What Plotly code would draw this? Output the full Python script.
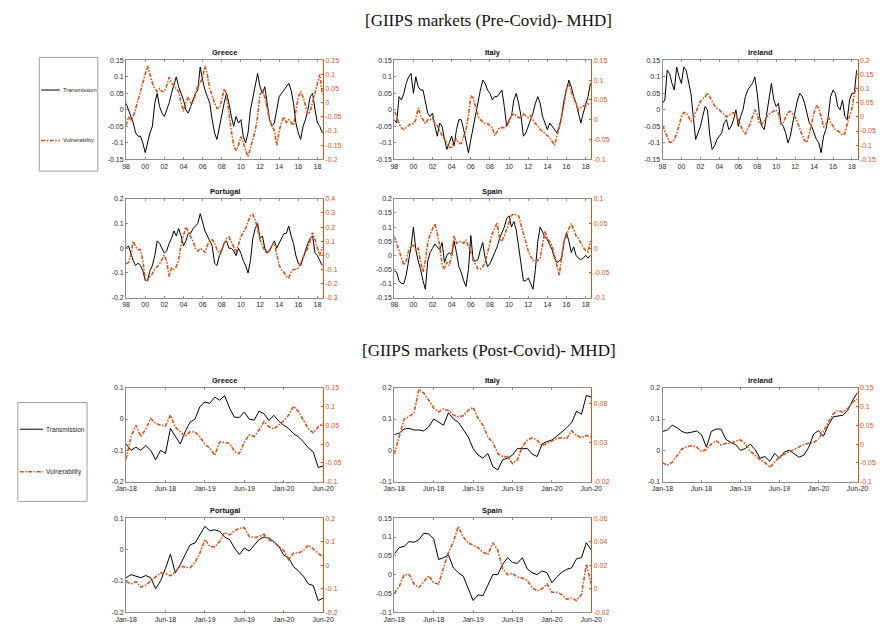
import plotly.graph_objects as go
import pandas as pd

W, H = 891, 631
ORANGE = "#D95319"
AXC = "#8c8c8c"
TXT = "#262626"
FONT = "Liberation Sans"

# ---------------- data: Pre-Covid (quarterly, from Jan 1998) ----------------
pre_start = "1998-01-01"
pre_tick_years = list(range(1998, 2019, 2))

greece_pre_T = [0.02, 0.0, -0.02, -0.04, -0.07, -0.08, -0.08, -0.10, -0.13, -0.10, -0.07, -0.05,
                0.02, 0.05, 0.01, -0.01, -0.02, 0.0, 0.02, 0.05, 0.08, 0.10, 0.07, 0.05,
                0.03, 0.0, -0.01, 0.01, 0.03, 0.05, 0.06, 0.13, 0.09, 0.06, 0.04, 0.02,
                -0.03, -0.07, -0.09, -0.05, -0.02, 0.02, 0.05, 0.02, -0.02, -0.05, -0.02, -0.04,
                -0.03, -0.08, -0.10, -0.07, 0.0, 0.04, 0.08, 0.11, 0.07, 0.05, 0.07, 0.02,
                -0.03, -0.05, -0.04, 0.0, 0.04, 0.05, 0.06, 0.07, 0.08, 0.06, 0.02, -0.04,
                -0.07, -0.09, -0.05, -0.03, 0.0, 0.04, 0.05, 0.0, -0.04, -0.05, -0.07]
greece_pre_V = [-0.08, -0.05, -0.06, -0.05, -0.02, 0.01, 0.04, 0.07, 0.10, 0.13, 0.10, 0.07,
                0.05, 0.04, 0.05, 0.04, 0.04, 0.06, 0.09, 0.07, 0.06, 0.05, 0.04, 0.0,
                -0.03, 0.0, 0.02, 0.0, 0.0, 0.03, 0.06, 0.07, 0.09, 0.13, 0.10, 0.05,
                0.02, 0.0, -0.02, -0.02, 0.01, 0.05, 0.03, -0.04, -0.10, -0.15, -0.17, -0.15,
                -0.12, -0.14, -0.17, -0.19, -0.16, -0.13, -0.10, -0.05, 0.03, 0.04, 0.02, -0.02,
                -0.06, -0.08, -0.10, -0.15, -0.10, -0.07, -0.05, -0.07, -0.06, -0.07, -0.08, -0.03,
                0.02, 0.04, 0.02, -0.01, -0.04, -0.03, 0.0, 0.04, 0.07, 0.10, 0.03]

italy_pre_T = [-0.03, -0.04, 0.04, 0.03, 0.05, 0.08, 0.10, 0.11, 0.05, 0.10, 0.07, 0.06,
               0.06, 0.03, -0.01, -0.02, -0.01, -0.05, -0.08, -0.04, -0.05, -0.09, -0.12, -0.10,
               -0.08, -0.11, -0.06, -0.03, -0.03, -0.06, -0.10, -0.13, -0.09, -0.05, -0.02, 0.02,
               0.06, 0.09, 0.08, 0.06, 0.05, 0.03, 0.04, 0.04, 0.05, 0.06, 0.01, -0.05,
               -0.03, -0.02, 0.03, 0.05, 0.02, -0.02, -0.08, -0.07, -0.05, -0.03, -0.01, 0.02,
               0.04, 0.02, -0.02, -0.04, -0.06, -0.04, -0.05, -0.06, -0.07, -0.05, -0.02, 0.03,
               0.06, 0.09, 0.07, 0.04, 0.02, -0.01, -0.04, -0.01, 0.02, 0.04, 0.08]
italy_pre_V = [0.02, 0.01, -0.01, -0.02, -0.025, -0.02, -0.015, -0.01, -0.01, 0.0, 0.03, 0.01,
               0.0, -0.01, 0.0, 0.0, 0.005, -0.01, -0.015, -0.03, -0.04, -0.05, -0.06, -0.07,
               -0.07, -0.055, -0.05, -0.06, -0.06, -0.04, -0.025, 0.01, 0.06, 0.055, 0.03, 0.01,
               0.0, -0.005, -0.01, -0.01, -0.015, -0.02, -0.04, -0.03, -0.02, -0.02, -0.02, -0.015,
               -0.005, 0.01, 0.015, 0.01, 0.005, 0.005, 0.015, 0.01, 0.005, 0.01, 0.0, -0.01,
               -0.015, -0.025, -0.03, -0.035, -0.04, -0.045, -0.055, -0.065, -0.04, -0.02, 0.01, 0.04,
               0.08, 0.09, 0.07, 0.055, 0.04, 0.025, 0.03, 0.035, 0.035, 0.04, 0.04]

ireland_pre_T = [0.02, 0.03, 0.12, 0.11, 0.08, 0.06, 0.13, 0.10, 0.08, 0.13, 0.12, 0.08,
                 0.05, -0.02, -0.09, -0.07, -0.05, -0.02, 0.01, 0.0, -0.08, -0.12, -0.11, -0.09,
                 -0.08, -0.07, -0.04, -0.03, -0.06, -0.05, -0.03, 0.0, -0.05, -0.02, 0.0, 0.04,
                 0.06, 0.07, 0.08, 0.10, 0.05, -0.02, -0.05, -0.06, -0.01, 0.03, 0.08, 0.03,
                 0.01, 0.02, -0.04, -0.05, -0.07, -0.10, -0.08, -0.04, 0.0, 0.03, 0.05, 0.04,
                 0.02, -0.01, -0.04, -0.05, -0.07, -0.09, -0.10, -0.13, -0.08, -0.06, -0.02, 0.04,
                 0.06, 0.05, 0.01, 0.0, 0.03, -0.02, -0.03, 0.03, 0.05, 0.05, 0.12]
ireland_pre_V = [-0.03, -0.05, -0.07, -0.09, -0.09, -0.08, -0.06, -0.03, 0.0, 0.015, 0.015, 0.0,
                 -0.015, -0.005, 0.015, 0.04, 0.055, 0.065, 0.07, 0.085, 0.07, 0.05, 0.04, 0.03,
                 0.025, 0.015, 0.01, 0.0, 0.005, 0.01, 0.015, 0.01, -0.01, -0.03, -0.05, -0.06,
                 -0.045, -0.025, 0.0, 0.025, 0.01, -0.025, -0.025, -0.015, 0.0, 0.01, 0.015, 0.02,
                 0.025, 0.01, -0.025, -0.02, -0.005, 0.015, 0.02, 0.01, 0.0, -0.02, -0.045, -0.065,
                 -0.085, -0.09, -0.06, -0.02, 0.015, 0.04, 0.03, 0.0, -0.035, -0.03, 0.0, -0.02,
                 -0.035, -0.045, -0.05, -0.055, -0.065, -0.06, -0.025, 0.0, 0.03, 0.08, 0.11]

portugal_pre_T = [0.0, 0.01, -0.02, -0.05, -0.07, -0.06, -0.07, -0.09, -0.13, -0.13, -0.09, -0.07,
                  -0.03, 0.03, 0.02, 0.0, -0.02, -0.01, 0.02, 0.04, 0.07, 0.05, 0.08, 0.05,
                  0.01, 0.03, 0.06, 0.06, 0.08, 0.09, 0.10, 0.14, 0.10, 0.07, 0.05, 0.03,
                  0.01, -0.06, -0.07, -0.03, -0.01, 0.02, 0.03, 0.0, 0.0, -0.01, -0.03, 0.0,
                  -0.02, -0.05, -0.07, -0.10, -0.05, 0.04, 0.08, 0.10, 0.04, 0.05, 0.0, -0.02,
                  -0.01, 0.01, 0.03, 0.0, 0.02, 0.04, 0.06, 0.06, 0.09, 0.05, 0.02, -0.03,
                  -0.06, -0.07, -0.04, -0.01, 0.02, 0.04, 0.05, -0.02, -0.03, -0.05, -0.07]
portugal_pre_V = [-0.06, -0.05, 0.0, 0.10, 0.06, 0.04, 0.04, -0.03, -0.17, -0.18, -0.15, -0.13,
                  -0.10, -0.08, -0.06, -0.03, 0.0, -0.04, -0.15, -0.09, -0.10, -0.08, -0.03, 0.08,
                  0.15, 0.20, 0.17, 0.14, 0.10, 0.05, 0.03, 0.05, 0.04, 0.02, 0.07, 0.10,
                  0.11, 0.09, 0.04, 0.02, 0.04, 0.08, 0.12, 0.13, 0.10, 0.06, 0.02, 0.07,
                  0.13, 0.16, 0.19, 0.24, 0.28, 0.29, 0.25, 0.19, 0.11, 0.07, 0.03, 0.02,
                  0.04, 0.07, 0.09, 0.01, -0.07, -0.10, -0.12, -0.15, -0.16, -0.12, -0.10, -0.10,
                  -0.09, -0.05, -0.01, 0.02, 0.05, 0.11, 0.16, 0.11, 0.05, 0.0, 0.06]

spain_pre_T = [-0.055, -0.06, -0.09, -0.10, -0.10, -0.07, -0.02, 0.03, 0.10, 0.02, -0.02, -0.05,
               -0.09, -0.12, -0.02, 0.01, 0.025, 0.04, 0.03, 0.02, 0.045, -0.025, 0.0, 0.01,
               0.0, 0.05, 0.01, -0.04, -0.06, -0.09, -0.11, -0.05, 0.07, -0.02, -0.02, -0.015,
               0.02, 0.045, -0.01, -0.04, -0.03, -0.01, 0.01, 0.03, 0.06, 0.08, 0.10, 0.13,
               0.14, 0.10, 0.12, 0.09, 0.03, -0.03, -0.09, -0.09, -0.08, -0.10, -0.12, -0.05,
               0.05, 0.10, 0.08, 0.065, 0.055, 0.04, 0.02, -0.01, -0.025, -0.02, -0.01, 0.05,
               0.08, 0.05, 0.01, 0.03, 0.0, -0.01, -0.015, -0.01, 0.0, -0.01, 0.0]
spain_pre_V = [0.024, 0.007, -0.005, -0.02, -0.034, -0.025, -0.005, 0.004, 0.006, -0.003, 0.0, -0.028,
               -0.048, -0.025, 0.01, 0.028, 0.04, 0.05, 0.03, 0.005, -0.033, -0.042, -0.028, -0.035,
               -0.015, 0.025, 0.01, 0.012, 0.014, 0.01, 0.017, 0.004, -0.01, -0.02, -0.032, -0.042,
               -0.042, -0.038, -0.028, -0.01, 0.012, 0.03, 0.04, 0.052, 0.02, 0.014, 0.025, 0.04,
               0.052, 0.066, 0.07, 0.068, 0.065, 0.047, 0.028, 0.01, -0.005, -0.016, -0.025, -0.023,
               -0.025, -0.02, 0.01, 0.035, 0.02, 0.014, 0.005, -0.015, -0.03, -0.055, -0.015, 0.015,
               0.025, 0.04, 0.05, 0.036, 0.025, 0.02, 0.01, 0.002, -0.005, -0.008, 0.015]

# ---------------- data: Post-Covid (equally spaced observations Jan-18 .. Jun-20) ----------------
post_tick_labels = ["Jan-18", "Jun-18", "Jan-19", "Jun-19", "Jan-20", "Jun-20"]

greece_post_T = [-0.08, -0.10, -0.09, -0.10, -0.085, -0.10, -0.13, -0.10, -0.11, -0.03,
                 -0.055, -0.08, -0.04, -0.01, 0.0, 0.04, 0.054, 0.05, 0.07, 0.06,
                 0.075, 0.035, 0.006, 0.005, 0.022, 0.0, -0.004, 0.025, 0.017, -0.005,
                 0.012, -0.007, -0.02, -0.03, -0.047, -0.057, -0.073, -0.092, -0.105, -0.155, -0.15]
greece_post_V = [-0.04, 0.02, 0.05, 0.02, 0.04, 0.068, 0.055, 0.05, 0.048, 0.077,
                 0.045, 0.033, 0.02, 0.033, 0.032, 0.019, 0.0, -0.011, -0.03, 0.006,
                 0.005, 0.002, -0.02, -0.025, 0.005, 0.024, 0.02, 0.037, 0.06, 0.046,
                 0.04, 0.05, 0.062, 0.077, 0.101, 0.086, 0.064, 0.041, 0.03, 0.046, 0.055]

italy_post_T = [0.05, 0.055, 0.068, 0.07, 0.065, 0.065, 0.062, 0.075, 0.10, 0.09,
                0.08, 0.12, 0.10, 0.09, 0.065, 0.043, 0.006, -0.015, -0.025, -0.01,
                -0.052, -0.063, -0.03, -0.025, -0.015, 0.006, 0.005, 0.006, -0.012, -0.02,
                0.02, 0.028, 0.033, 0.045, 0.058, 0.072, 0.088, 0.125, 0.115, 0.175, 0.17]
italy_post_V = [0.015, 0.038, 0.06, 0.063, 0.068, 0.098, 0.093, 0.084, 0.074, 0.069,
                0.073, 0.071, 0.065, 0.063, 0.064, 0.071, 0.075, 0.061, 0.052, 0.037,
                0.03, 0.016, 0.012, 0.012, 0.003, 0.008, 0.025, 0.033, 0.036, 0.033,
                0.026, 0.029, 0.032, 0.035, 0.036, 0.035, 0.045, 0.039, 0.036, 0.039, 0.037]

ireland_post_T = [0.06, 0.065, 0.08, 0.072, 0.06, 0.055, 0.058, 0.062, 0.05, 0.01,
                  0.06, 0.068, 0.068, 0.035, 0.025, 0.018, 0.0, 0.006, 0.02, 0.002,
                  -0.025, -0.02, -0.035, -0.01, -0.025, -0.005, 0.0, -0.01, -0.022, -0.015,
                  0.01, 0.052, 0.063, 0.045, 0.08, 0.107, 0.11, 0.112, 0.128, 0.16, 0.185]
ireland_post_V = [-0.05, -0.056, -0.048, -0.032, -0.013, -0.007, -0.004, -0.008, -0.02, -0.014,
                  0.0, 0.009, -0.002, 0.002, 0.002, 0.008, 0.011, 0.0, -0.019, -0.03,
                  -0.042, -0.049, -0.062, -0.048, -0.034, -0.027, -0.02, -0.014, -0.007, -0.001,
                  0.002, 0.004, 0.014, 0.034, 0.058, 0.08, 0.09, 0.085, 0.095, 0.112, 0.12]

portugal_post_T = [-0.09, -0.08, -0.085, -0.09, -0.083, -0.09, -0.125, -0.10, -0.06, -0.015,
                   -0.075, -0.048, -0.016, 0.015, 0.021, 0.05, 0.074, 0.06, 0.063, 0.058,
                   0.04, 0.032, 0.005, -0.016, 0.005, -0.005, 0.015, 0.032, 0.04, 0.037,
                   0.025, 0.011, -0.018, -0.026, -0.055, -0.068, -0.085, -0.11, -0.115, -0.163, -0.155]
portugal_post_V = [-0.07, -0.08, -0.07, -0.093, -0.085, -0.068, -0.05, -0.033, -0.035, -0.045,
                   -0.028, -0.004, -0.008, -0.011, 0.012, 0.052, 0.11, 0.08, 0.078, 0.101,
                   0.14, 0.129, 0.146, 0.157, 0.16, 0.122, 0.118, 0.122, 0.132, 0.108,
                   0.097, 0.08, 0.062, 0.024, 0.052, 0.052, 0.062, 0.085, 0.07, 0.05, 0.035]

spain_post_T = [0.055, 0.072, 0.075, 0.088, 0.086, 0.093, 0.11, 0.108, 0.095, 0.04,
                0.045, 0.052, 0.018, 0.005, -0.004, -0.035, -0.069, -0.054, -0.056, -0.028,
                0.0, 0.0, 0.027, 0.045, 0.032, 0.03, 0.045, 0.015, 0.005, 0.0,
                0.01, 0.005, -0.022, -0.006, 0.006, 0.014, 0.018, 0.042, 0.045, 0.085, 0.065]
spain_post_V = [-0.004, 0.002, 0.012, 0.012, 0.004, 0.001, 0.006, 0.011, 0.005, 0.004,
                0.018, 0.031, 0.04, 0.053, 0.044, 0.039, 0.037, 0.035, 0.031, 0.029,
                0.039, 0.033, 0.017, 0.012, 0.013, 0.01, 0.009, 0.007, 0.001, -0.002,
                0.0, 0.004, -0.003, -0.003, -0.005, -0.009, -0.008, -0.01, -0.005, 0.021, 0.004]

# ---------------- layout helpers ----------------
def px_x(x):
    return x / W


def px_y(y):
    return 1 - y / H


def ticks(lo, hi, step):
    vals = []
    n = int(round((hi - lo) / step))
    for i in range(n + 1):
        vals.append(round(lo + i * step, 6))
    return vals, [f"{v:g}" for v in vals]


COLS = [(118, 320), (393, 595), (668, 868)]
PRE_ROWS = [(57, 157), (197, 297)]
POST_ROWS = [(388, 483), (520, 615)]

panels = [
    ("Greece", "pre", greece_pre_T, greece_pre_V, COLS[0], PRE_ROWS[0], (-0.15, 0.15, 0.05), (-0.2, 0.15, 0.05)),
    ("Italy", "pre", italy_pre_T, italy_pre_V, COLS[1], PRE_ROWS[0], (-0.15, 0.15, 0.05), (-0.1, 0.15, 0.05)),
    ("Ireland", "pre", ireland_pre_T, ireland_pre_V, COLS[2], PRE_ROWS[0], (-0.15, 0.15, 0.05), (-0.15, 0.2, 0.05)),
    ("Portugal", "pre", portugal_pre_T, portugal_pre_V, COLS[0], PRE_ROWS[1], (-0.2, 0.2, 0.1), (-0.3, 0.4, 0.1)),
    ("Spain", "pre", spain_pre_T, spain_pre_V, COLS[1], PRE_ROWS[1], (-0.15, 0.2, 0.05), (-0.1, 0.1, 0.05)),
    ("Greece", "post", greece_post_T, greece_post_V, COLS[0], POST_ROWS[0], (-0.2, 0.1, 0.1), (-0.1, 0.15, 0.05)),
    ("Italy", "post", italy_post_T, italy_post_V, COLS[1], POST_ROWS[0], (-0.1, 0.2, 0.1), (-0.02, 0.1, 0.05)),
    ("Ireland", "post", ireland_post_T, ireland_post_V, COLS[2], POST_ROWS[0], (-0.1, 0.2, 0.1), (-0.1, 0.15, 0.05)),
    ("Portugal", "post", portugal_post_T, portugal_post_V, COLS[0], POST_ROWS[1], (-0.2, 0.1, 0.1), (-0.2, 0.2, 0.1)),
    ("Spain", "post", spain_post_T, spain_post_V, COLS[1], POST_ROWS[1], (-0.1, 0.15, 0.05), (-0.02, 0.06, 0.02)),
]

fig = go.Figure()
layout = dict(
    width=W, height=H, autosize=False,
    margin=dict(l=0, r=0, t=0, b=0),
    paper_bgcolor="white", plot_bgcolor="white",
    showlegend=False,
    font=dict(family=FONT, size=7, color=TXT),
)
annotations = []
shapes = []

tick_font = dict(family=FONT, size=7, color=TXT)

for i, (name, period, T, V, (x0, x1), (y0, y1), yl, yr) in enumerate(panels):
    xi = i + 1
    yli = 2 * i + 1
    yri = 2 * i + 2
    xname = "x" if xi == 1 else f"x{xi}"
    ylname = "y" if yli == 1 else f"y{yli}"
    yrname = f"y{yri}"

    if period == "pre":
        xs = pd.date_range(pre_start, periods=len(T), freq="QS")
        tv = [pd.Timestamp(f"{y}-01-01") for y in pre_tick_years]
        tt = [f"{y % 100:02d}" for y in pre_tick_years]
        xrange = [pd.Timestamp("1998-01-01"), pd.Timestamp("2018-08-05")]
    else:
        xs = list(range(len(T)))
        n = len(T) - 1
        tv = [k * n / (len(post_tick_labels) - 1) for k in range(len(post_tick_labels))]
        tt = post_tick_labels
        xrange = [0, n]

    fig.add_trace(go.Scatter(x=xs, y=T, mode="lines", xaxis=xname, yaxis=ylname,
                             line=dict(color="black", width=1), name="Transmission"))
    fig.add_trace(go.Scatter(x=xs, y=V, mode="lines", xaxis=xname, yaxis=yrname,
                             line=dict(color=ORANGE, width=1.6, dash="4px,1.5px,1.5px,1.5px"),
                             name="Vulnerability"))

    lv, lt = ticks(*yl)
    rv, rt = ticks(*yr)

    layout[f"xaxis{'' if xi == 1 else xi}"] = dict(
        domain=[px_x(x0), px_x(x1)], anchor=ylname, range=xrange,
        tickvals=tv, ticktext=tt, showgrid=False, zeroline=False,
        showline=True, linecolor=AXC, linewidth=1, mirror="ticks",
        ticks="inside", ticklen=2, tickcolor=AXC, tickfont=tick_font,
    )
    layout[f"yaxis{'' if yli == 1 else yli}"] = dict(
        domain=[px_y(y1), px_y(y0)], anchor=xname, range=[yl[0], yl[1]],
        tickvals=lv, ticktext=lt, showgrid=False, zeroline=False,
        showline=True, linecolor=AXC, linewidth=1,
        ticks="inside", ticklen=2, tickcolor=AXC, tickfont=tick_font,
    )
    layout[f"yaxis{yri}"] = dict(
        overlaying=ylname, side="right", anchor=xname, range=[yr[0], yr[1]],
        tickvals=rv, ticktext=rt, showgrid=False, zeroline=False,
        showline=True, linecolor=ORANGE, linewidth=1,
        ticks="inside", ticklen=2, tickcolor=ORANGE,
        tickfont=dict(family=FONT, size=7, color=ORANGE),
    )
    annotations.append(dict(
        text=f"<b>{name}</b>", x=px_x((x0 + x1) / 2), y=px_y(y0 - 1),
        xref="paper", yref="paper", xanchor="center", yanchor="bottom",
        showarrow=False, font=dict(family=FONT, size=7.5, color="#111"),
    ))

# main titles
for text, cy in [("[GIIPS markets (Pre-Covid)- MHD]", 17),
                 ("[GIIPS markets (Post-Covid)- MHD]", 350)]:
    annotations.append(dict(
        text=text, x=px_x(490), y=px_y(cy), xref="paper", yref="paper",
        xanchor="center", yanchor="middle", showarrow=False,
        font=dict(family="Liberation Serif", size=17, color="#111"),
    ))

# legend boxes
legend_boxes = [
    dict(box=(29, 54, 89, 169), t_y=87, v_y=138, lx=(31, 50), fs=5.7),
    dict(box=(7, 403, 78, 503), t_y=430, v_y=473, lx=(9, 33), fs=6.5),
]
for lb in legend_boxes:
    bx0, by0, bx1, by1 = lb["box"]
    shapes.append(dict(type="rect", xref="paper", yref="paper",
                       x0=px_x(bx0), x1=px_x(bx1), y0=px_y(by1), y1=px_y(by0),
                       line=dict(color="#a0a0a0", width=1), fillcolor="white"))
    lx0, lx1 = lb["lx"]
    shapes.append(dict(type="line", xref="paper", yref="paper",
                       x0=px_x(lx0), x1=px_x(lx1), y0=px_y(lb["t_y"]), y1=px_y(lb["t_y"]),
                       line=dict(color="black", width=1)))
    shapes.append(dict(type="line", xref="paper", yref="paper",
                       x0=px_x(lx0), x1=px_x(lx1), y0=px_y(lb["v_y"]), y1=px_y(lb["v_y"]),
                       line=dict(color=ORANGE, width=1.6, dash="4px,1.5px,1.5px,1.5px")))
    for label, yy in [("Transmission", lb["t_y"]), ("Vulnerability", lb["v_y"])]:
        annotations.append(dict(
            text=label, x=px_x(lx1 + 1), y=px_y(yy), xref="paper", yref="paper",
            xanchor="left", yanchor="middle", showarrow=False,
            font=dict(family=FONT, size=lb["fs"], color=TXT),
        ))

layout["annotations"] = annotations
layout["shapes"] = shapes
fig.update_layout(**layout)
fig.write_html("out.html")
